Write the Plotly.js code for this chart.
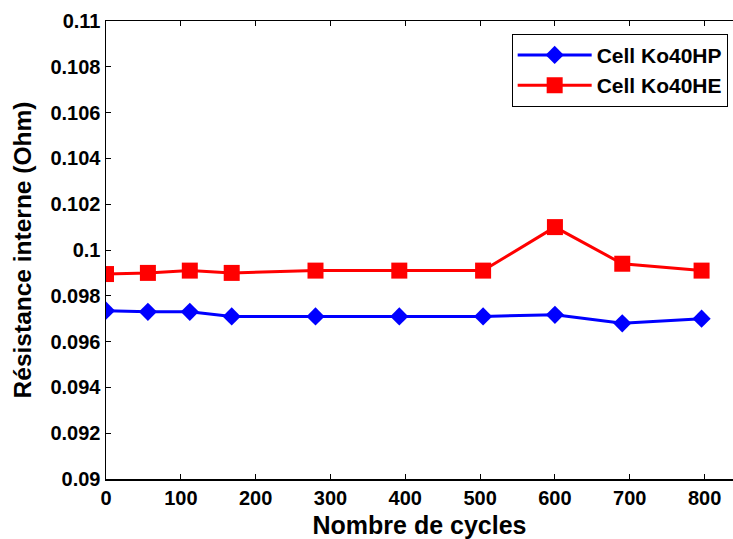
<!DOCTYPE html>
<html>
<head>
<meta charset="utf-8">
<script src="https://cdn.plot.ly/plotly-3.0.1.min.js"></script>
<style>
html,body{margin:0;padding:0;overflow:hidden;background:#fff;}
#chart{width:733px;height:539px;}
</style>
</head>
<body>
<div id="chart"></div>
<script>
const cycles = [0, 56, 112, 168, 280, 392, 504, 600, 690, 796];
const ko40HP = [0.09735, 0.0973, 0.0973, 0.0971, 0.0971, 0.0971, 0.0971, 0.09717, 0.0968, 0.0970];
const ko40HE = [0.09895, 0.0990, 0.0991, 0.0990, 0.0991, 0.0991, 0.0991, 0.1010, 0.0994, 0.0991];
const xTicks = [0, 100, 200, 300, 400, 500, 600, 700, 800];
const yTicks = [0.09, 0.092, 0.094, 0.096, 0.098, 0.1, 0.102, 0.104, 0.106, 0.108, 0.11];
const yTickText = ["0.09", "0.092", "0.094", "0.096", "0.098", "0.1", "0.102", "0.104", "0.106", "0.108", "0.11"];

const font = "Liberation Sans, Arial, sans-serif";

const traces = [
  {
    x: cycles, y: ko40HP, name: "Cell Ko40HP", mode: "lines+markers",
    line: {color: "#0000ff", width: 3},
    marker: {symbol: "diamond", size: 14, color: "#0000ff"}
  },
  {
    x: cycles, y: ko40HE, name: "Cell Ko40HE", mode: "lines+markers",
    line: {color: "#ff0000", width: 3},
    marker: {symbol: "square", size: 16, color: "#ff0000"}
  }
];

const layout = {
  width: 733, height: 539,
  margin: {l: 106, r: 0, t: 21, b: 60},
  paper_bgcolor: "#fff", plot_bgcolor: "#fff",
  font: {family: font, color: "#000", size: 19},
  showlegend: true,
  legend: {
    x: 0.647, y: 0.972, xanchor: "left", yanchor: "top",
    bordercolor: "#000", borderwidth: 1, bgcolor: "#fff",
    font: {family: font, size: 21, color: "#000", weight: "bold"},
    itemwidth: 74, tracegroupgap: 0
  },
  xaxis: {
    range: [0, 838], tickvals: xTicks, ticks: "inside", ticklen: 5, tickcolor: "#000",
    showline: true, linecolor: "#000", linewidth: 1.5, mirror: "allticks",
    showgrid: false, zeroline: false,
    tickfont: {family: font, size: 20, weight: "bold"},
    title: {text: "Nombre de cycles", font: {family: font, size: 25, weight: "bold"}, standoff: 10}
  },
  yaxis: {
    range: [0.09, 0.11], tickvals: yTicks, ticktext: yTickText, ticks: "inside", ticklen: 5, tickcolor: "#000",
    showline: true, linecolor: "#000", linewidth: 1.5, mirror: false,
    showgrid: false, zeroline: false,
    tickfont: {family: font, size: 20, weight: "bold"},
    title: {text: "Résistance interne (Ohm)", font: {family: font, size: 24.5, weight: "bold"}, standoff: 12}
  }
};

Plotly.newPlot("chart", traces, layout, {displayModeBar: false, staticPlot: true});
</script>
</body>
</html>
